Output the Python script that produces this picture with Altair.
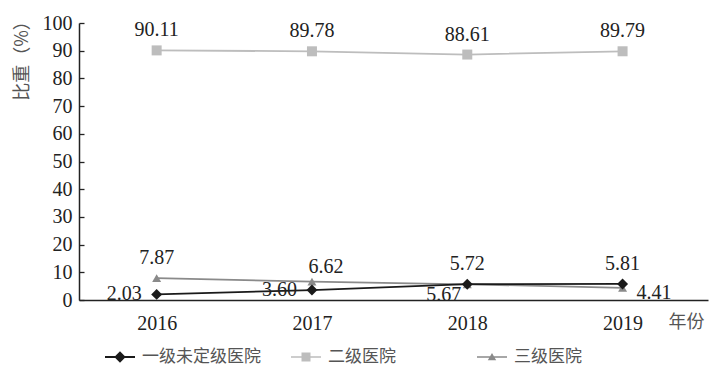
import altair as alt
import pandas as pd

# Share of hospitals by grade, 2016-2019 (%)
years = [2016, 2017, 2018, 2019]
series = ["一级未定级医院", "二级医院", "三级医院"]
grade1 = [2.03, 3.60, 5.72, 5.81]
grade2 = [90.11, 89.78, 88.61, 89.79]
grade3 = [7.87, 6.62, 5.67, 4.41]

colors = ["#1a1a1a", "#bdbdbd", "#8a8a8a"]
shapes = ["diamond", "square", "triangle-up"]
marker_sizes = [120, 80, 55]

# legend symbols: a short line with the series marker on it
legend_paths = [
    "M-1,-0.07H1V0.07H-1Z M0,-0.38L0.38,0L0,0.38L-0.38,0Z",
    "M-1,-0.05H1V0.05H-1Z M-0.3,-0.3H0.3V0.3H-0.3Z",
    "M-1,-0.05H1V0.05H-1Z M0,-0.26L0.28,0.22H-0.28Z",
]

values = {series[0]: grade1, series[1]: grade2, series[2]: grade3}
rows = []
for s in reversed(series):
    for y, v in zip(years, values[s]):
        rows.append({"年份": y, "系列": s, "图例": s, "比重": v})
df = pd.DataFrame(rows)

SERIF = "Liberation Serif"
CJK = "Noto Sans CJK SC"
tick_values = list(range(0, 101, 10))

x_enc = alt.X(
    "年份:Q",
    scale=alt.Scale(domain=[2015.5, 2019.55], nice=False, zero=False),
    axis=alt.Axis(
        values=years, format="d", ticks=False, tickSize=0, grid=False,
        labelFont=SERIF, labelFontSize=20, labelColor="#222", labelPadding=13,
        domainColor="#222", domainWidth=1.5,
        title="年份", titleFont=CJK, titleFontSize=18, titleFontWeight="normal",
        titleColor="#555", titleX=589, titleY=22, titleAlign="left",
        titleBaseline="middle", titleAnchor="start",
    ),
)

y_scale = alt.Scale(domain=[0, 100], nice=False)
# value axis: labels and inward ticks, shifted 5px into the plot
y_main = alt.Y(
    "比重:Q", scale=y_scale,
    axis=alt.Axis(
        values=tick_values, orient="left", offset=-5, tickSize=5, ticks=True,
        tickColor="#222", tickWidth=1.3, domain=False, grid=False,
        labelFont=SERIF, labelFontSize=20, labelColor="#222", labelPadding=7,
        title="比重（%）", titleFont=CJK, titleFontSize=18, titleFontWeight="normal",
        titleColor="#555", titleAngle=270, titleX=-62, titleY=33,
        titleAlign="center", titleBaseline="middle",
    ),
)
# axis line at the plot edge
y_line = alt.Y(
    "比重:Q", scale=y_scale,
    axis=alt.Axis(
        values=tick_values, orient="left", ticks=False, tickSize=0, labels=False,
        domain=True, domainColor="#222", domainWidth=1.5, grid=False, title=None,
    ),
)
y_plain = alt.Y("比重:Q", scale=y_scale, axis=None)

color_enc = alt.Color("系列:N", scale=alt.Scale(domain=series, range=colors), legend=None)

base = alt.Chart(df)

lines = base.mark_line(strokeWidth=1.8).encode(x=x_enc, y=y_main, color=color_enc)

points = base.mark_point(filled=True, opacity=1).encode(
    x=x_enc,
    y=y_line,
    color=color_enc,
    shape=alt.Shape("系列:N", scale=alt.Scale(domain=series, range=shapes), legend=None),
    size=alt.Size("系列:N", scale=alt.Scale(domain=series, range=marker_sizes), legend=None),
)

legend_props = dict(
    title=None, orient="none", legendX=26, legendY=319, direction="horizontal",
    columns=3, gridAlign="all", columnPadding=30, labelOffset=7, padding=0,
    symbolSize=900, symbolOpacity=1, symbolStrokeWidth=0,
    labelFont=CJK, labelFontSize=17, labelColor="#555",
)
legend_layer = base.mark_point(filled=True, opacity=0).encode(
    x=x_enc,
    y=y_plain,
    color=alt.Color("图例:N", scale=alt.Scale(domain=series, range=colors),
                    legend=alt.Legend(**legend_props)),
    shape=alt.Shape("图例:N", scale=alt.Scale(domain=series, range=legend_paths),
                    legend=alt.Legend(**legend_props)),
)


def labels(expr, **kw):
    return base.mark_text(
        font=SERIF, fontSize=20, color="#222", baseline="middle", **kw
    ).encode(
        x=x_enc, y=y_plain, text=alt.Text("比重:Q", format=".2f")
    ).transform_filter(expr)


g1, g2, g3 = (f"datum['系列'] == '{s}'" for s in series)
label_layers = [
    labels(f"{g2} || ({g3} && datum['年份'] == 2016) || ({g1} && datum['年份'] >= 2018)",
           align="center", dy=-20),
    labels(f"{g3} && datum['年份'] == 2017", align="center", dx=14, dy=-15),
    labels(f"{g1} && datum['年份'] <= 2017", align="right", dx=-15, dy=0),
    labels(f"{g3} && datum['年份'] == 2018", align="right", dx=-6, dy=11),
    labels(f"{g3} && datum['年份'] == 2019", align="left", dx=14, dy=5),
]

chart = (
    alt.layer(lines, points, legend_layer, *label_layers)
    .resolve_scale(color="independent", shape="independent", size="independent")
    .resolve_axis(y="independent")
    .properties(
        width=629, height=277,
        autosize=alt.AutoSizeParams(type="none"),
        padding={"left": 79, "top": 23, "right": 3, "bottom": 73},
        background="white",
    )
    .configure_view(stroke=None)
)

chart.save("out.html", embed_options={"renderer": "svg", "actions": False})
